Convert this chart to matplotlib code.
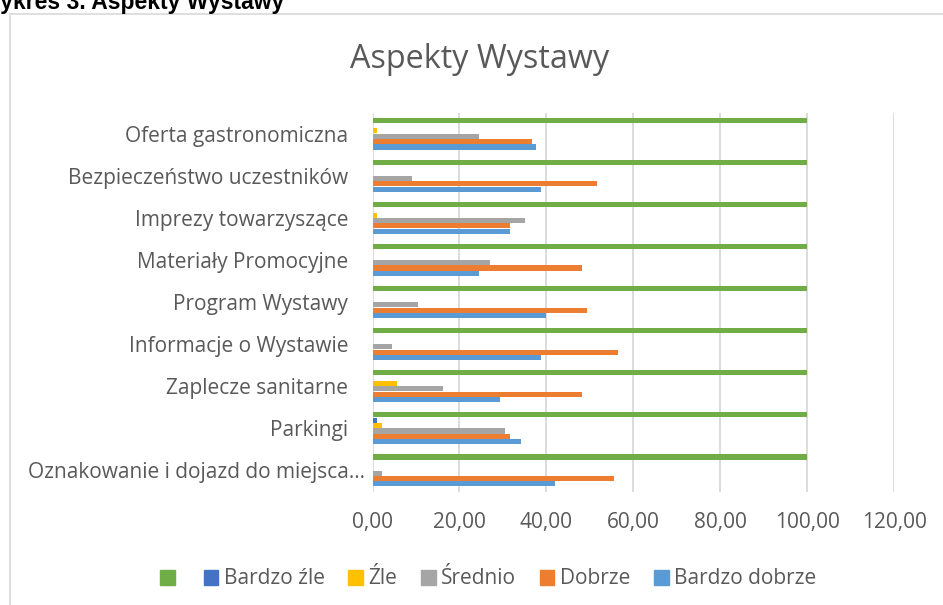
import matplotlib.pyplot as plt
from matplotlib.patches import Rectangle, Patch
from matplotlib.ticker import FuncFormatter
from matplotlib.transforms import ScaledTranslation

categories = ['Oznakowanie i dojazd do miejsca...', 'Parkingi', 'Zaplecze sanitarne',
              'Informacje o Wystawie', 'Program Wystawy', 'Materiały Promocyjne',
              'Imprezy towarzyszące', 'Bezpieczeństwo uczestników', 'Oferta gastronomiczna']

bardzo_dobrze = [41.9, 34.1, 29.3, 38.7, 39.9, 24.6, 31.6, 38.7, 37.7]
dobrze = [55.6, 31.6, 48.2, 56.4, 49.3, 48.2, 31.6, 51.6, 36.6]
srednio = [2.3, 30.5, 16.3, 4.4, 10.4, 27.0, 35.2, 9.2, 24.6]
zle = [0.0, 2.1, 5.7, 0.0, 0.0, 0.0, 1.0, 0.0, 1.0]
bardzo_zle = [0.0, 1.0, 0.0, 0.0, 0.0, 0.0, 0.0, 0.0, 0.0]
suma = [100, 100, 100, 100, 100, 100, 100, 100, 100]

series = [('Bardzo dobrze', bardzo_dobrze, '#5B9BD5'),
          ('Dobrze', dobrze, '#ED7D31'),
          ('Średnio', srednio, '#A5A5A5'),
          ('Źle', zle, '#FFC000'),
          ('Bardzo źle', bardzo_zle, '#4472C4'),
          ('', suma, '#70AD47')]

font = 'Open Sans'
txt = '#595959'

fig = plt.figure(figsize=(9.43, 6.05), dpi=100)
fig.patches.append(Rectangle((10 / 943, -0.01), 1.0, 1 - 14 / 605 + 0.01, transform=fig.transFigure,
                             fill=False, edgecolor='#d9d9d9', linewidth=1.2))
fig.text(-21 / 943, 1 - 9 / 605, 'Wykres 3. Aspekty Wystawy', fontsize=16.5, fontweight='bold',
         family='Liberation Sans', va='baseline', ha='left')
fig.text(480 / 943, 1 - 59 / 605, 'Aspekty Wystawy', fontsize=23.3, color=txt, family=font,
         ha='center', va='center')

ax = fig.add_axes([372.5 / 943, 1 - 491.5 / 605, 521.5 / 943, 379 / 605])
pitch = 0.128
ys = list(range(len(categories)))
for i, (name, vals, col) in enumerate(series):
    off = (i - 2.5) * pitch
    ax.barh([y + off for y in ys], vals, height=pitch * 0.95, color=col, label=name, zorder=3)

ax.set_xlim(0, 120)
ax.set_ylim(-0.5, len(categories) - 0.5)
ax.set_xticks(range(0, 121, 20))
ax.xaxis.set_major_formatter(FuncFormatter(lambda v, p: f'{v:.2f}'.replace('.', ',')))
ax.set_yticks(ys)
ax.set_yticklabels(categories)
ax.grid(axis='x', color='#d9d9d9', linewidth=1.3, zorder=0)
for s in ax.spines.values():
    s.set_visible(False)
ax.tick_params(length=0, labelsize=15, colors=txt)
ax.tick_params(axis='x', pad=15)
ax.tick_params(axis='y', pad=17.5)
for lab in ax.get_xticklabels() + ax.get_yticklabels():
    lab.set_family(font)
# the truncated first label sits a bit further right in the original
first = ax.get_yticklabels()[0]
first.set_transform(first.get_transform() + ScaledTranslation(17 / 100, 0, fig.dpi_scale_trans))

order = [5, 4, 3, 2, 1, 0]
handles = [Patch(color=series[k][2]) for k in order]
labels = [series[k][0] for k in order]
fig.legend(handles, labels, loc='center', bbox_to_anchor=(488 / 943, 1 - 579 / 605), ncol=6,
           frameon=False, handlelength=0.7, handleheight=0.7, handletextpad=0.25,
           columnspacing=1.15, prop={'family': font, 'size': 15}, labelcolor=txt)

fig.savefig('out.png', dpi=100)
